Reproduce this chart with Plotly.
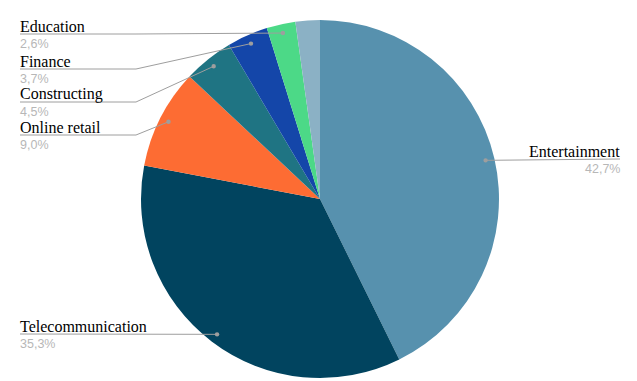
import math
import plotly.graph_objects as go

categories = ["Entertainment", "Telecommunication", "Online retail", "Constructing",
              "Finance", "Education", "Other"]
values = [42.7, 35.3, 9.0, 4.5, 3.7, 2.6, 2.2]
pct_labels = ["42,7%", "35,3%", "9,0%", "4,5%", "3,7%", "2,6%", ""]
colors = ["#5791ae", "#01445f", "#fd6c33", "#1f7483", "#1446a9", "#4cd987", "#8bb1c5"]

W, H = 637, 381
CX, CY, R = 320, 199, 179

fig = go.Figure(go.Pie(
    labels=categories, values=values, sort=False, direction="clockwise", rotation=0,
    marker=dict(colors=colors, line=dict(width=0)), textinfo="none", hoverinfo="label+percent",
    domain=dict(x=[(CX - R) / W, (CX + R) / W], y=[(H - CY - R) / H, (H - CY + R) / H]),
))

def px(x):
    return x / W

def py(y):
    return 1 - y / H

# label layout: (category index, side, line y, elbow x)
label_layout = [
    (0, "right", 159, None),
    (1, "left", 334, None),
    (2, "left", 135, 136),
    (3, "left", 102, 136),
    (4, "left", 69, 136),
    (5, "left", 34, 136),
]

total = sum(values)
cum = [sum(values[:i]) for i in range(len(values))]
shapes = []
annotations = []
for idx, side, ly, ex in label_layout:
    mid = (cum[idx] + values[idx] / 2) / total * 2 * math.pi
    rho = 0.95 * R
    dx = CX + rho * math.sin(mid)
    dy = CY - rho * math.cos(mid)
    pts = [(dx, dy)]
    if ex is not None:
        pts.append((ex, ly))
    end_x = 20 if side == "left" else 620
    pts.append((end_x, ly))
    path = "M " + " L ".join(f"{px(x)},{py(y)}" for x, y in pts)
    shapes.append(dict(type="path", xref="paper", yref="paper", path=path,
                       line=dict(color="#9e9e9e", width=1)))
    shapes.append(dict(type="circle", xref="paper", yref="paper",
                       x0=px(dx - 2.2), x1=px(dx + 2.2), y0=py(dy + 2.2), y1=py(dy - 2.2),
                       fillcolor="#9e9e9e", line=dict(width=0)))
    anchor = "left" if side == "left" else "right"
    annotations.append(dict(x=px(end_x), y=py(ly), xref="paper", yref="paper",
                            text=categories[idx], showarrow=False, xanchor=anchor, yanchor="bottom",
                            xshift=-2 if side == "left" else 2, yshift=-3,
                            font=dict(family="Liberation Serif, Times New Roman, serif", size=16,
                                      color="#000000")))
    annotations.append(dict(x=px(end_x), y=py(ly), xref="paper", yref="paper",
                            text=pct_labels[idx], showarrow=False, xanchor=anchor, yanchor="top",
                            xshift=-2 if side == "left" else 2, yshift=-1,
                            font=dict(family="Liberation Sans, Arial, sans-serif", size=12.5,
                                      color="#b7b7b7")))

fig.update_layout(
    width=W, height=H, margin=dict(l=0, r=0, t=0, b=0),
    paper_bgcolor="white", plot_bgcolor="white", showlegend=False,
    shapes=shapes, annotations=annotations,
)
fig.write_html("out.html", config={"displayModeBar": False},
               post_script="document.body.style.margin='0';")
